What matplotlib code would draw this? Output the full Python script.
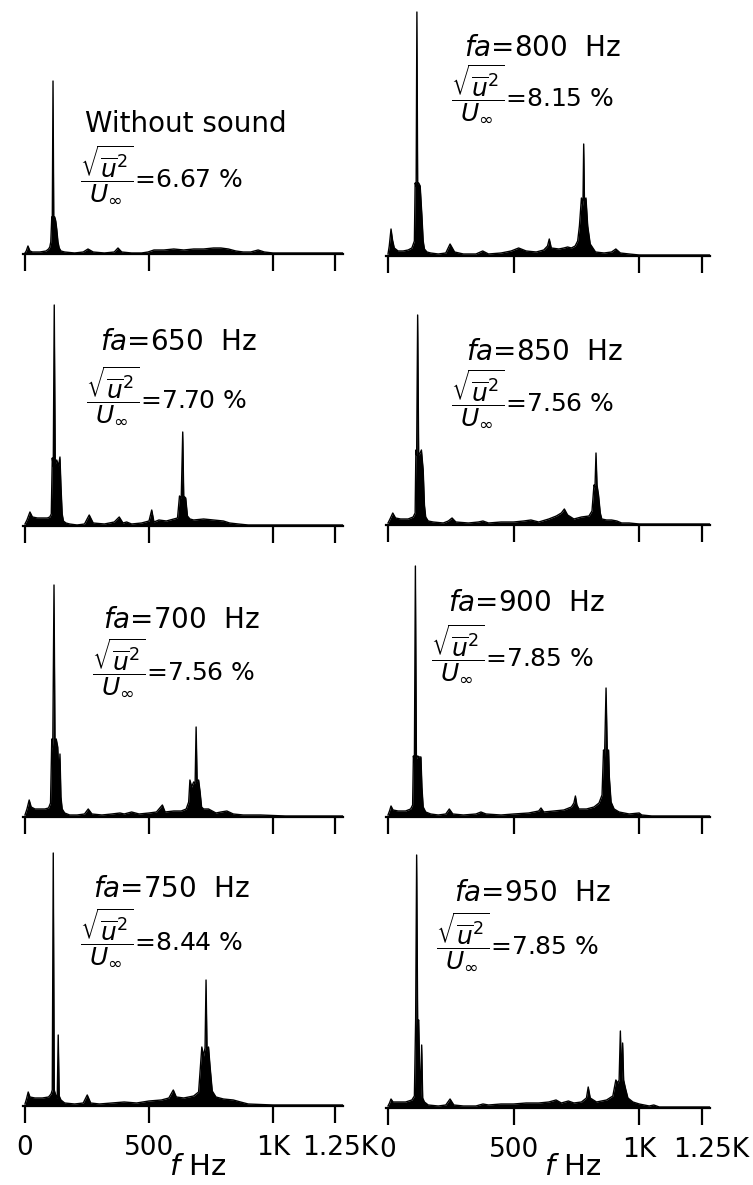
import matplotlib.pyplot as plt
import matplotlib.transforms as mtransforms

plt.rcParams['font.family'] = 'DejaVu Sans'
plt.rcParams['mathtext.fontset'] = 'dejavusans'

# ==== spectra: frequency [Hz] / amplitude (common arbitrary scale) ====
f_quiet = [0, 5, 12, 20, 30, 60, 85, 95, 100, 104, 108, 110, 113, 116, 120, 124, 128, 133, 138, 145,
           160, 200, 235, 254, 275, 320, 360, 375, 390, 430, 470, 496, 520, 560, 600, 640, 680, 720,
           760, 790, 820, 850, 880, 910, 940, 965, 1000, 1100, 1200, 1280]
a_quiet = [1, 3, 8, 3, 2, 2, 3, 5, 7, 12, 37, 30, 173, 35, 37, 33, 25, 12, 6, 3,
           2, 1, 2, 5, 2, 1, 2, 6, 2, 1, 1, 2, 4, 4, 5, 4, 5, 5,
           6, 6, 5, 3, 2, 2, 4, 2, 1, 1, 1, 1]

f_650 = [0, 8, 20, 30, 50, 70, 90, 100, 106, 110, 114, 118, 122, 128, 135, 141, 145, 150, 155, 165,
         180, 210, 240, 259, 275, 320, 360, 380, 395, 410, 430, 470, 500, 511, 520, 540, 570, 600,
         615, 623, 630, 636, 640, 648, 655, 665, 680, 720, 760, 800, 825, 860, 900, 1000, 1100, 1280]
a_650 = [2, 6, 14, 9, 8, 8, 8, 9, 12, 68, 60, 221, 62, 66, 60, 69, 40, 12, 5, 3,
         2, 1, 2, 11, 3, 2, 4, 9, 3, 4, 2, 3, 5, 16, 4, 6, 5, 7,
         8, 30, 28, 94, 30, 28, 10, 7, 6, 7, 6, 5, 3, 2, 1, 1, 1, 1]

f_700 = [0, 8, 17, 25, 40, 60, 80, 95, 103, 108, 112, 117, 121, 126, 132, 137, 141, 145, 150, 160,
         180, 210, 240, 255, 270, 310, 350, 383, 400, 430, 460, 500, 530, 554, 565, 600, 630, 650,
         660, 665, 672, 680, 686, 690, 694, 700, 706, 712, 720, 740, 770, 790, 814, 840, 880, 950,
         1050, 1150, 1280]
a_700 = [2, 8, 17, 10, 8, 8, 8, 9, 14, 78, 70, 232, 72, 78, 70, 40, 63, 20, 8, 4,
         2, 2, 3, 8, 3, 2, 3, 4, 3, 5, 3, 4, 5, 12, 5, 6, 6, 8,
         15, 37, 30, 35, 34, 90, 36, 37, 25, 10, 8, 8, 4, 5, 6, 3, 2, 2,
         1, 1, 1]

f_750 = [0, 6, 13, 20, 40, 70, 95, 105, 110, 114, 118, 125, 130, 134, 138, 145, 160, 200, 235, 251,
         265, 300, 350, 400, 450, 500, 550, 580, 598, 610, 640, 680, 700, 713, 720, 726, 730, 734,
         740, 746, 755, 770, 800, 840, 869, 900, 1000, 1100, 1280]
a_750 = [2, 7, 14, 9, 8, 8, 9, 12, 16, 253, 16, 10, 8, 71, 10, 6, 3, 2, 3, 11,
         3, 2, 3, 4, 3, 5, 6, 8, 16, 9, 8, 10, 14, 59, 50, 58, 126, 55,
         59, 40, 15, 9, 7, 6, 4, 2, 1, 1, 1]

f_800 = [0, 5, 12, 18, 25, 40, 60, 80, 95, 105, 108, 112, 115, 118, 122, 128, 135, 140, 145, 155,
         170, 200, 230, 247, 265, 300, 350, 377, 400, 450, 490, 520, 550, 590, 620, 635, 642, 650,
         680, 700, 715, 730, 745, 755, 762, 770, 776, 779, 782, 788, 795, 805, 826, 860, 890, 907,
         925, 960, 1000, 1100, 1200, 1280]
a_800 = [2, 10, 27, 16, 8, 5, 5, 6, 8, 15, 73, 70, 244, 72, 73, 70, 40, 15, 7, 4,
         3, 2, 3, 12, 4, 2, 2, 5, 2, 3, 5, 8, 5, 4, 6, 10, 17, 8,
         7, 8, 9, 8, 10, 15, 30, 58, 50, 112, 55, 58, 30, 12, 4, 3, 4, 7,
         3, 2, 1, 1, 1, 1]

f_850 = [0, 8, 19, 30, 50, 80, 100, 108, 111, 114, 118, 122, 128, 133, 140, 145, 150, 160, 180, 220,
         240, 255, 270, 320, 360, 378, 400, 450, 500, 540, 569, 600, 640, 670, 690, 702, 715, 740,
         770, 800, 812, 820, 824, 828, 832, 838, 845, 851, 870, 890, 911, 930, 960, 1000, 1100, 1280]
a_850 = [2, 6, 12, 7, 6, 6, 8, 12, 75, 70, 210, 70, 72, 75, 55, 20, 8, 4, 3, 2,
         4, 7, 3, 2, 3, 4, 2, 3, 3, 4, 5, 3, 6, 9, 12, 16, 10, 6,
         8, 9, 14, 40, 38, 72, 40, 30, 12, 6, 5, 5, 4, 2, 2, 1, 1, 1]

f_900 = [0, 6, 12, 20, 40, 70, 90, 98, 101, 105, 109, 113, 118, 124, 131, 135, 140, 150, 170, 200,
         230, 244, 258, 300, 350, 370, 390, 450, 500, 560, 600, 609, 620, 660, 700, 730, 740, 746,
         752, 760, 790, 820, 840, 852, 858, 862, 868, 873, 878, 881, 888, 900, 920, 960, 1000, 1010,
         1050, 1100, 1280]
a_900 = [2, 6, 11, 7, 6, 6, 8, 12, 61, 55, 251, 58, 61, 60, 60, 30, 10, 5, 3, 2,
         3, 8, 3, 2, 3, 5, 3, 2, 3, 4, 6, 9, 5, 6, 7, 10, 14, 21,
         12, 8, 8, 10, 14, 22, 67, 60, 129, 62, 67, 40, 15, 8, 5, 3, 4, 2,
         1, 1, 1]

f_950 = [0, 6, 12, 20, 40, 70, 95, 105, 110, 114, 118, 122, 126, 130, 134, 138, 145, 160, 200, 230,
         247, 262, 300, 350, 378, 400, 450, 500, 550, 600, 640, 669, 690, 718, 740, 770, 790, 797,
         805, 830, 870, 895, 907, 915, 920, 925, 930, 934, 938, 945, 955, 975, 1000, 1040, 1058, 1080,
         1150, 1280]
a_950 = [2, 5, 9, 6, 6, 6, 8, 12, 88, 253, 85, 88, 40, 10, 63, 10, 6, 3, 2, 3,
         9, 3, 2, 2, 4, 3, 4, 4, 5, 5, 6, 8, 5, 7, 5, 6, 10, 21,
         10, 6, 8, 12, 28, 25, 28, 77, 26, 65, 28, 20, 10, 6, 4, 2, 3, 1,
         1, 1]

titles = ["Without sound", r"$fa$=650  Hz", r"$fa$=700  Hz", r"$fa$=750  Hz",
          r"$fa$=800  Hz", r"$fa$=850  Hz", r"$fa$=900  Hz", r"$fa$=950  Hz"]
rms_pct = ["6.67", "7.70", "7.56", "8.44", "8.15", "7.56", "7.85", "7.85"]

tick_hz = [0, 500, 1000, 1250]
tick_txt = ["0", "500", "1K", "1.25K"]

spectra = [(f_quiet, a_quiet), (f_650, a_650), (f_700, a_700), (f_750, a_750),
           (f_800, a_800), (f_850, a_850), (f_900, a_900), (f_950, a_950)]

# ==== layout (pixels) ====
W, H = 753, 1185
fig = plt.figure(figsize=(W / 100, H / 100), dpi=100)

col_x0 = [23.0, 386.0]
col_w = [320.2, 324.3]
base_y = [[254, 526, 817, 1106], [256, 525, 817, 1108]]
title_pos = [(85, 124), (100, 342), (103, 620), (93, 889),
             (464, 48), (466, 352), (448, 603), (454, 893)]
frac_pos = [(80, 174), (86, 395), (92, 667), (80, 937),
            (451, 93), (451, 398), (431, 653), (436, 941)]
last_label_shift = [5, 9]  # px, pushes "1.25K" off the "1K" label
AX_H = 262

for k, (f, a) in enumerate(spectra):
    col, row = divmod(k, 4)
    by = base_y[col][row]
    ax = fig.add_axes([col_x0[col] / W, 1 - by / H, col_w[col] / W, AX_H / H])
    ax.fill_between(f, 0, a, color='k', linewidth=0)
    ax.plot(f, a, color='k', linewidth=1.0)
    ax.set_xlim(-8, 1283)
    ax.set_ylim(0, AX_H)
    for s in ['left', 'right', 'top']:
        ax.spines[s].set_visible(False)
    ax.spines['bottom'].set_linewidth(1.6)
    ax.set_yticks([])
    ax.set_xticks(tick_hz)
    ax.tick_params(axis='x', direction='out', length=12, width=1.6, pad=9, labelsize=19)
    if row == 3:
        ax.set_xticklabels(tick_txt)
        lab = ax.get_xticklabels()[-1]
        lab.set_transform(lab.get_transform() + mtransforms.ScaledTranslation(
            last_label_shift[col] / 100, 0, fig.dpi_scale_trans))
    else:
        ax.set_xticklabels([])
    ax.patch.set_alpha(0)

    tx, ty = title_pos[k]
    fig.text(tx / W, 1 - ty / H, titles[k], fontsize=20, ha='left', va='center')
    fx, fy = frac_pos[k]
    fig.text(fx / W, 1 - fy / H,
             r"$\dfrac{\sqrt{\overline{u}^{2}}}{U_{\infty}}$=" + rms_pct[k] + " %",
             fontsize=18, ha='left', va='center')

# frequency axis labels
for cx in [198, 573]:
    fig.text(cx / W, 1 - 1167 / H, r"$f$ Hz", fontsize=21, ha='center', va='center')

fig.savefig("out.png", dpi=100)
